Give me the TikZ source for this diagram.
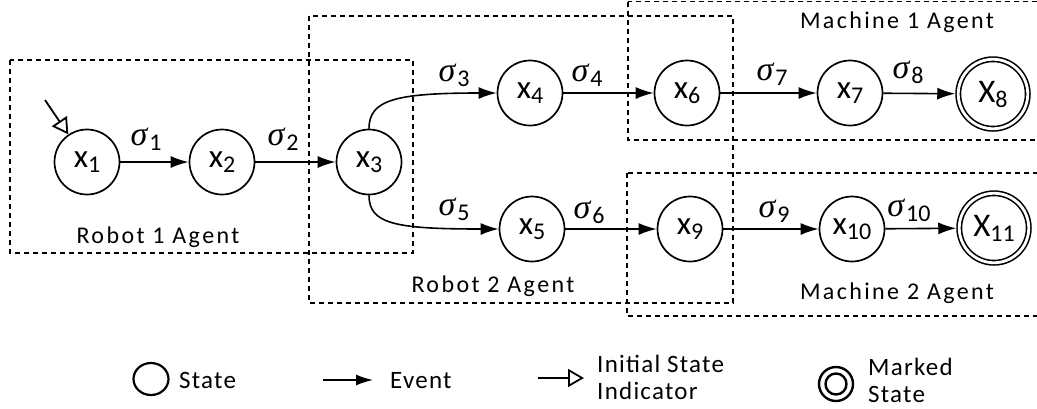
\documentclass[tikz,border=0pt]{standalone}
\usepackage{fontspec}
\setmainfont{Carlito}
\newfontfamily\grpfont[LetterSpace=10]{Carlito}
\newfontfamily\legfont[LetterSpace=5]{Carlito}
\newfontfamily\sigfont{Liberation Serif}
\usetikzlibrary{arrows.meta,shapes.geometric}

% state label: letter with a lowered index
\newcommand{\stlab}[2]{{\fontsize{33}{33}\selectfont #1}\raisebox{-5pt}{\fontsize{24}{24}\selectfont #2}}
% event label: sigma with a lowered index
\newcommand{\evlab}[1]{{\sigfont\itshape\fontsize{34}{34}\selectfont σ}\hspace{2pt}\raisebox{-5pt}{\fontsize{24}{24}\selectfont #1}}

\tikzset{
  state/.style={circle, draw, line width=1.7pt, minimum size=65pt, inner sep=0pt},
  marked/.style={circle, draw, line width=1.6pt, double, double distance=2.8pt,
                 minimum size=69.5pt, inner sep=0pt, outer sep=3pt},
  ev/.style={line width=1.6pt, -{Latex[length=18pt,width=12pt]}},
  initarrow/.style={line width=1.8pt, -{Triangle[open,length=16pt,width=18pt,line width=1.8pt]}},
  grpbox/.style={line width=1.4pt, dash pattern=on 5pt off 4pt},
  grplabel/.style={font=\grpfont\fontsize{24}{24}\selectfont, inner sep=0pt},
  evlabel/.style={inner sep=0pt},
  legtext/.style={font=\legfont\fontsize{25}{27}\selectfont, inner sep=0pt}
}

\begin{document}
\begin{tikzpicture}[x=1pt, y=-1pt]
\useasboundingbox (0,0) rectangle (1037,408);

% agent regions
\draw[grpbox] (10,60) rectangle (413,253);
\draw[grpbox] (309,16) rectangle (733,303);
\draw[grpbox] (628,1.5) rectangle (1045,140);
\draw[grpbox] (627,173) rectangle (1045,316);

\node[grplabel] (r1) at (158,237) {Robot 1 Agent};
\node[grplabel] (r2) at (493,286) {Robot 2 Agent};
\node[grplabel] (m1) at (897,22) {Machine 1 Agent};
\node[grplabel] (m2) at (897,293) {Machine 2 Agent};

% states
\node[state] (x1) at (87,162) {\stlab{x}{1}};
\node[state] (x2) at (222,162) {\stlab{x}{2}};
\node[state] (x3) at (369,162) {\stlab{x}{3}};
\node[state] (x4) at (530,93) {\stlab{x}{4}};
\node[state] (x5) at (532,229) {\stlab{x}{5}};
\node[state] (x6) at (687,93) {\stlab{x}{6}};
\node[state] (x9) at (690,229) {\stlab{x}{9}};
\node[state] (x7) at (850,93) {\stlab{x}{7}};
\node[state] (x10) at (852,229) {\stlab{x}{10}};
\node[marked] (x8) at (993,94) {\stlab{X}{8}};
\node[marked] (x11) at (994,228) {\stlab{X}{11}};

% initial state indicator
\coordinate (start) at (45,100);
\draw[initarrow] (start) -- (x1);

% events
\draw[ev] (x1) -- (x2);
\draw[ev] (x2) -- (x3);
\draw[ev] (x3.north) .. controls (369,100) and (395,93) .. (x4.west);
\draw[ev] (x3.south) .. controls (369,224) and (395,229) .. (x5.west);
\draw[ev] (x4) -- (x6);
\draw[ev] (x5) -- (x9);
\draw[ev] (x6) -- (x7);
\draw[ev] (x7) -- (x8);
\draw[ev] (x9) -- (x10);
\draw[ev] (x10) -- (x11);

\node[evlabel] (s1) at (146,139) {\evlab{1}};
\node[evlabel] (s2) at (283,139) {\evlab{2}};
\node[evlabel] (s3) at (454,75) {\evlab{3}};
\node[evlabel] (s4) at (587,75) {\evlab{4}};
\node[evlabel] (s5) at (454,209) {\evlab{5}};
\node[evlabel] (s6) at (589,212) {\evlab{6}};
\node[evlabel] (s7) at (772,74) {\evlab{7}};
\node[evlabel] (s8) at (908,72) {\evlab{8}};
\node[evlabel] (s9) at (774,211) {\evlab{9}};
\node[evlabel] (s10) at (909,210) {\evlab{10}};

% legend
\node[draw, ellipse, line width=2.2pt, minimum width=35pt, minimum height=32pt, inner sep=0pt] (lgstate) at (151,379) {};
\node[legtext, anchor=base west] (lgstatet) at (179,388) {State};

\coordinate (lgevA) at (323,380);
\coordinate (lgevB) at (373,380);
\draw[line width=1.5pt, -{Latex[length=17pt,width=11pt]}] (lgevA) -- (lgevB);
\node[legtext, anchor=base west] (lgevt) at (390,388) {Event};

\coordinate (lginA) at (538,378);
\coordinate (lginB) at (584,378);
\draw[initarrow] (lginA) -- (lginB);
\node[legtext, align=left, anchor=west] (lgint) at (597,377) {Initial State\\Indicator};

\node[circle, draw, line width=2.4pt, minimum size=34pt, inner sep=0pt] (lgmark) at (836,384) {};
\draw[line width=2.4pt] (lgmark.center) circle (10.5pt);
\node[legtext, align=left, anchor=west] (lgmarkt) at (868,380) {Marked\\State};
\end{tikzpicture}
\end{document}
